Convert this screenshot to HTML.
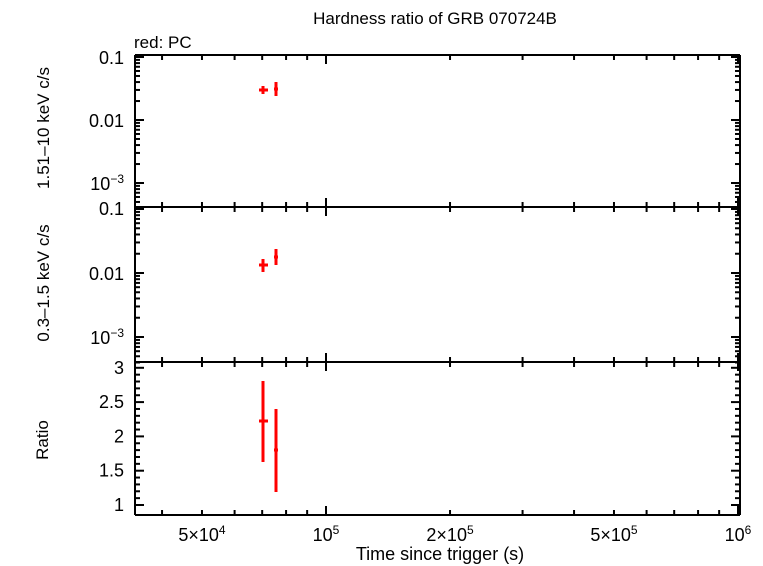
<!DOCTYPE html>
<html><head><meta charset="utf-8"><style>
body{margin:0;background:#fff;}
svg{display:block;font-family:"Liberation Sans",sans-serif;}
</style></head><body>
<svg id="s" width="763" height="566" xmlns="http://www.w3.org/2000/svg">
<rect width="763" height="566" fill="#fff"/>
<text x="435" y="24" font-size="17" text-anchor="middle">Hardness ratio of GRB 070724B</text>
<text x="134" y="48" font-size="17">red: PC</text>
<text x="440" y="560" font-size="18" text-anchor="middle">Time since trigger (s)</text>
<text transform="translate(49,128) rotate(-90)" font-size="17" text-anchor="middle">1.51–10 keV c/s</text>
<text transform="translate(49,283) rotate(-90)" font-size="17" text-anchor="middle">0.3–1.5 keV c/s</text>
<text transform="translate(48,440) rotate(-90)" font-size="17" text-anchor="middle">Ratio</text>
<g id="g" stroke="#000" fill="none"></g>
<g font-size="18" id="t"></g>
</svg>
<script>
const g=document.getElementById('g'),t=document.getElementById('t');
const L=135,R=740;
function X(v){return 326+412*(Math.log10(v)-5);}
function line(x1,y1,x2,y2,w,c){const e=document.createElementNS('http://www.w3.org/2000/svg','line');e.setAttribute('x1',x1);e.setAttribute('y1',y1);e.setAttribute('x2',x2);e.setAttribute('y2',y2);e.setAttribute('stroke-width',w||2);if(c)e.setAttribute('stroke',c);g.appendChild(e);}
function txt(x,y,s,a){const e=document.createElementNS('http://www.w3.org/2000/svg','text');e.setAttribute('x',x);e.setAttribute('y',y);e.setAttribute('text-anchor',a||'end');e.innerHTML=s;t.appendChild(e);}
const panels=[[55,207],[207,362],[362,515]];
panels.forEach(p=>{
 line(L,p[0],R,p[0]);line(L,p[1],R,p[1]);line(L,p[0],L,p[1]);line(R,p[0],R,p[1]);
 for(let d=4;d<=6;d++)for(let m=1;m<10;m++){const v=m*Math.pow(10,d);const x=X(v);if(x<L+1||x>R+1)continue;
  const len=(m==1)?9:5;line(x,p[0],x,p[0]+len);line(x,p[1],x,p[1]-len);}
});
function logPanel(top,bot,y01,dec){
 for(let d=-4;d<=-1;d++)for(let m=1;m<10;m++){const v=m*Math.pow(10,d);const y=y01-dec*(Math.log10(v)+1);
  if(y<top-0.5||y>bot+0.5)continue;const len=(m==1)?9:5;line(L,y,L+len,y);line(R,y,R-len,y);}
}
logPanel(55,207,57,63);logPanel(207,362,209,64);
txt(124,64,'0.1');txt(124,127,'0.01');txt(124,190,'10<tspan font-size="12" dy="-7">−3</tspan>');
txt(124,215,'0.1');txt(124,280,'0.01');txt(124,344,'10<tspan font-size="12" dy="-7">−3</tspan>');
function RY(v){return 505-(v-1)*68.6;}
for(let v=1;v<=3.001;v+=0.1){const y=RY(v);const maj=Math.abs(v*2-Math.round(v*2))<1e-6;const len=maj?9:5;line(L,y,L+len,y);line(R,y,R-len,y);}
[['3',3],['2.5',2.5],['2',2],['1.5',1.5],['1',1]].forEach(a=>txt(124,RY(a[1])+6,a[0]));
txt(X(5e4),541,'5×10<tspan font-size="12" dy="-7">4</tspan>','middle');
txt(X(1e5),541,'10<tspan font-size="12" dy="-7">5</tspan>','middle');
txt(X(2e5),541,'2×10<tspan font-size="12" dy="-7">5</tspan>','middle');
txt(X(5e5),541,'5×10<tspan font-size="12" dy="-7">5</tspan>','middle');
txt(X(1e6),541,'10<tspan font-size="12" dy="-7">6</tspan>','middle');
const red='#f00';
function pt(x,x1,x2,y,y1,y2){line(x1,y,x2,y,3,red);line(x,y1,x,y2,3,red);}
pt(263,259,268,90,86,94);pt(276,274,278,89,82,96);
pt(263,259,268,265,259,272);pt(276,274,278,257,249,265);
pt(263,259,268,421,381,462);pt(276,274,278,450,409,492);
</script>
</body></html>
